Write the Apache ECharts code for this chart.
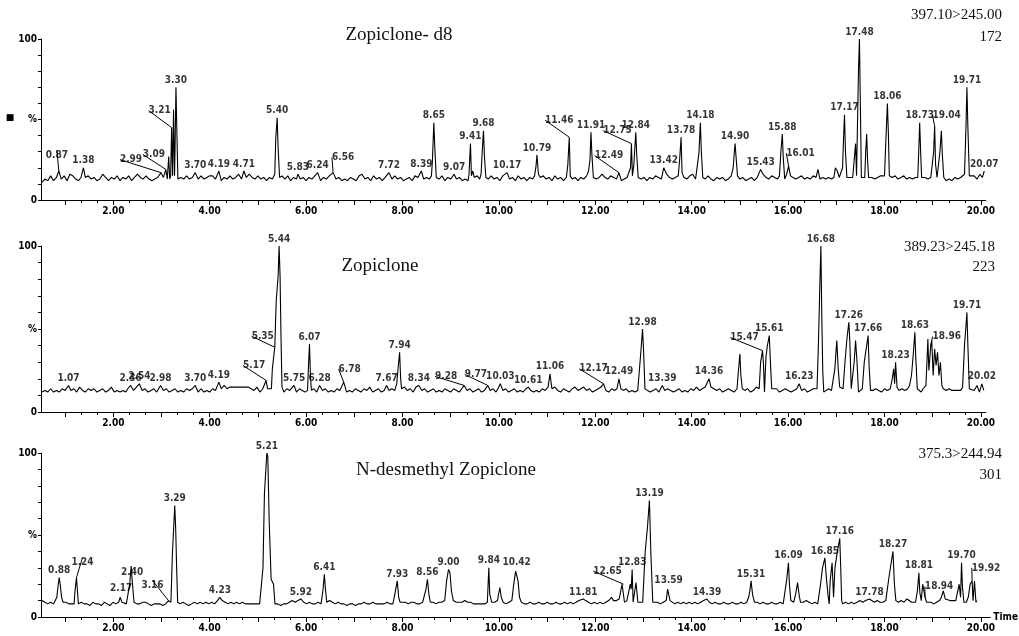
<!DOCTYPE html>
<html>
<head>
<meta charset="utf-8">
<script src="https://cdn.jsdelivr.net/npm/echarts@6/dist/echarts.min.js"></script>
<style>
  html, body { margin: 0; padding: 0; background: #fff; }
  #chart { width: 1019px; height: 636px; }
</style>
</head>
<body>
<div id="chart"></div>
<script>
// MRM chromatogram traces: [retention time (min), relative intensity (%)]
const zopicloneD8Trace = [
  [0.52,11],[0.58,13],[0.64,12],[0.70,15],[0.76,12],[0.82,14],[0.87,18],[0.92,13],[0.98,15],[1.04,12],
  [1.10,16],[1.16,15],[1.22,13],[1.28,12],[1.33,14],[1.38,20],[1.42,14],[1.48,15],[1.54,13],[1.60,14],
  [1.66,12],[1.72,13],[1.78,16],[1.84,14],[1.90,12],[1.96,14],[2.02,13],[2.08,15],[2.14,12],[2.20,14],
  [2.26,13],[2.32,15],[2.38,12],[2.44,14],[2.50,16],[2.56,14],[2.62,13],[2.68,15],[2.74,13],[2.80,12],
  [2.86,13],[2.92,14],[2.99,17],[3.04,14],[3.09,19],[3.12,13],[3.15,27],[3.17,13],[3.19,15],[3.21,45],
  [3.23,15],[3.25,56],[3.27,15],[3.28,30],[3.30,70],[3.32,41],[3.34,13],[3.40,14],[3.46,13],[3.52,15],
  [3.58,13],[3.64,14],[3.70,17],[3.76,13],[3.82,15],[3.88,13],[3.94,14],[4.00,15],[4.06,15],[4.12,13],
  [4.19,18],[4.24,12],[4.30,14],[4.36,13],[4.42,15],[4.48,13],[4.54,14],[4.60,16],[4.66,13],[4.71,18],
  [4.76,14],[4.82,16],[4.88,14],[4.94,13],[5.00,15],[5.06,13],[5.12,14],[5.18,12],[5.24,14],[5.30,13],
  [5.35,16],[5.37,38],[5.40,51],[5.42,32],[5.45,14],[5.50,15],[5.56,13],[5.62,15],[5.68,12],[5.74,14],
  [5.80,13],[5.83,16],[5.88,13],[5.94,14],[6.00,12],[6.06,14],[6.12,13],[6.18,15],[6.24,17],[6.30,12],
  [6.36,14],[6.42,13],[6.48,15],[6.56,17],[6.62,13],[6.68,14],[6.74,12],[6.80,13],[6.86,12],[6.92,14],
  [6.98,13],[7.04,12],[7.10,15],[7.16,16],[7.22,13],[7.28,14],[7.34,12],[7.40,15],[7.46,13],[7.52,14],
  [7.58,12],[7.64,14],[7.72,17],[7.78,13],[7.84,15],[7.90,13],[7.96,14],[8.02,12],[8.08,13],[8.14,14],
  [8.20,12],[8.26,15],[8.32,14],[8.39,18],[8.44,13],[8.50,14],[8.56,13],[8.60,15],[8.62,24],[8.65,48],
  [8.67,33],[8.70,14],[8.76,13],[8.82,15],[8.88,12],[8.94,14],[9.00,13],[9.07,16],[9.12,13],[9.18,14],
  [9.24,12],[9.30,13],[9.36,12],[9.38,16],[9.41,35],[9.43,15],[9.46,18],[9.49,14],[9.55,15],[9.60,13],
  [9.63,16],[9.65,28],[9.68,43],[9.70,27],[9.73,14],[9.78,13],[9.84,15],[9.90,13],[9.96,14],[10.02,12],
  [10.08,15],[10.12,14],[10.17,17],[10.22,13],[10.28,14],[10.34,12],[10.40,15],[10.46,13],[10.52,14],[10.58,12],
  [10.64,14],[10.70,13],[10.74,15],[10.77,21],[10.79,28],[10.82,16],[10.86,14],[10.92,15],[10.98,13],[11.04,14],
  [11.10,12],[11.16,15],[11.22,13],[11.28,14],[11.34,12],[11.40,14],[11.43,22],[11.46,39],[11.48,15],[11.52,13],
  [11.58,14],[11.64,12],[11.70,14],[11.76,13],[11.82,15],[11.86,18],[11.89,25],[11.91,42],[11.93,28],[11.96,14],
  [12.02,13],[12.08,14],[12.14,16],[12.20,14],[12.26,13],[12.32,15],[12.38,14],[12.44,13],[12.49,17],[12.54,12],
  [12.60,13],[12.66,14],[12.70,15],[12.73,20],[12.75,35],[12.77,15],[12.80,22],[12.84,42],[12.86,28],[12.89,14],
  [12.95,13],[13.01,14],[13.07,12],[13.13,14],[13.19,13],[13.25,15],[13.31,14],[13.37,13],[13.42,20],[13.48,16],
  [13.54,14],[13.60,13],[13.66,14],[13.72,15],[13.75,25],[13.78,39],[13.80,17],[13.84,14],[13.90,13],[13.96,15],
  [14.02,16],[14.08,13],[14.12,14],[14.15,29],[14.18,48],[14.20,30],[14.23,14],[14.28,13],[14.34,15],[14.40,13],
  [14.46,12],[14.52,14],[14.58,13],[14.64,14],[14.70,12],[14.76,13],[14.82,15],[14.86,20],[14.88,28],[14.90,35],
  [14.92,27],[14.95,15],[15.00,13],[15.06,14],[15.12,12],[15.18,13],[15.24,14],[15.30,12],[15.36,14],[15.43,19],
  [15.48,16],[15.54,14],[15.60,13],[15.66,15],[15.72,14],[15.78,13],[15.82,15],[15.85,30],[15.88,41],[15.90,26],
  [15.93,13],[15.97,16],[16.01,21],[16.05,15],[16.10,14],[16.16,13],[16.22,14],[16.28,15],[16.34,13],[16.40,14],
  [16.46,13],[16.52,15],[16.58,14],[16.62,19],[16.66,13],[16.72,14],[16.78,13],[16.84,14],[16.90,13],[16.95,14],
  [16.98,20],[17.02,18],[17.06,14],[17.10,15],[17.13,20],[17.15,38],[17.17,53],[17.19,30],[17.22,14],[17.28,14],
  [17.34,14],[17.38,15],[17.40,35],[17.42,15],[17.44,16],[17.46,80],[17.48,100],[17.50,58],[17.52,14],[17.56,14],
  [17.59,14],[17.61,30],[17.63,41],[17.65,24],[17.67,14],[17.74,14],[17.80,13],[17.86,14],[17.92,15],[17.96,14],
  [18.00,15],[18.03,38],[18.06,60],[18.08,42],[18.10,15],[18.16,14],[18.22,15],[18.28,13],[18.34,14],[18.40,15],
  [18.46,13],[18.52,14],[18.58,13],[18.64,14],[18.69,14],[18.71,30],[18.73,48],[18.75,30],[18.77,14],[18.84,14],
  [18.90,13],[18.96,14],[19.00,14],[19.02,30],[19.04,46],[19.06,22],[19.09,14],[19.12,15],[19.15,30],[19.18,43],
  [19.20,28],[19.23,14],[19.28,12],[19.34,13],[19.40,12],[19.46,14],[19.52,13],[19.58,14],[19.62,13],[19.66,16],
  [19.69,45],[19.71,70],[19.73,45],[19.76,15],[19.80,14],[19.86,15],[19.92,13],[19.98,16],[20.03,14],[20.07,18]
];

const zopicloneTrace = [
  [0.52,12],[0.58,13],[0.64,12],[0.70,14],[0.76,12],[0.82,13],[0.88,12],[0.94,14],[1.00,13],[1.07,16],
  [1.12,13],[1.18,14],[1.24,12],[1.30,15],[1.36,13],[1.42,12],[1.48,14],[1.54,13],[1.60,14],[1.66,12],
  [1.72,13],[1.78,14],[1.84,12],[1.90,13],[1.96,15],[2.02,12],[2.08,13],[2.14,12],[2.20,13],[2.26,12],
  [2.30,14],[2.36,16],[2.42,13],[2.48,15],[2.54,17],[2.60,13],[2.66,14],[2.72,12],[2.78,13],[2.84,14],
  [2.90,12],[2.98,16],[3.04,13],[3.10,14],[3.16,12],[3.22,13],[3.28,14],[3.34,12],[3.40,13],[3.46,12],
  [3.52,14],[3.58,13],[3.64,14],[3.70,16],[3.76,12],[3.82,14],[3.88,12],[3.94,13],[4.00,12],[4.06,14],
  [4.12,13],[4.19,18],[4.24,14],[4.30,16],[4.36,14],[4.42,15],[4.50,15],[4.60,15],[4.70,15],[4.80,15],
  [4.86,14],[4.92,13],[4.98,15],[5.04,12],[5.10,14],[5.14,13],[5.17,19],[5.20,14],[5.24,14],[5.28,14],
  [5.30,26],[5.32,26],[5.35,39],[5.38,67],[5.42,82],[5.44,100],[5.46,82],[5.48,44],[5.50,15],[5.54,12],
  [5.60,14],[5.66,13],[5.70,14],[5.75,16],[5.80,12],[5.86,14],[5.92,13],[5.98,12],[6.03,13],[6.05,28],
  [6.07,41],[6.09,22],[6.11,13],[6.16,14],[6.22,12],[6.28,16],[6.34,13],[6.40,14],[6.46,12],[6.52,13],
  [6.58,12],[6.64,14],[6.70,13],[6.78,18],[6.84,12],[6.90,13],[6.96,12],[7.02,14],[7.08,13],[7.14,12],
  [7.20,14],[7.26,13],[7.32,15],[7.38,12],[7.44,13],[7.50,14],[7.56,12],[7.62,13],[7.67,16],[7.72,13],
  [7.78,14],[7.84,13],[7.88,17],[7.91,27],[7.94,36],[7.96,21],[7.98,14],[8.04,15],[8.10,13],[8.16,14],
  [8.22,12],[8.28,15],[8.34,16],[8.40,13],[8.46,14],[8.52,12],[8.58,13],[8.64,14],[8.70,12],[8.76,13],
  [8.82,12],[8.88,14],[8.94,13],[9.00,12],[9.06,14],[9.12,13],[9.18,12],[9.23,14],[9.28,16],[9.34,13],
  [9.40,14],[9.46,12],[9.52,13],[9.58,14],[9.64,12],[9.70,13],[9.77,16],[9.82,13],[9.88,14],[9.94,12],
  [9.98,14],[10.03,17],[10.08,13],[10.14,14],[10.20,12],[10.26,13],[10.32,14],[10.38,12],[10.44,13],[10.50,12],
  [10.56,14],[10.61,15],[10.66,13],[10.72,12],[10.78,13],[10.84,12],[10.90,14],[10.96,13],[11.02,15],[11.06,23],
  [11.10,14],[11.16,15],[11.22,13],[11.28,12],[11.34,14],[11.40,13],[11.46,12],[11.52,14],[11.58,15],[11.64,13],
  [11.70,14],[11.76,15],[11.82,13],[11.88,14],[11.94,12],[12.00,13],[12.06,14],[12.12,15],[12.17,17],[12.22,13],
  [12.28,12],[12.34,14],[12.40,13],[12.45,14],[12.49,20],[12.53,14],[12.58,13],[12.64,14],[12.70,12],[12.76,13],
  [12.82,12],[12.88,13],[12.92,14],[12.95,38],[12.98,50],[13.00,38],[13.03,14],[13.08,13],[13.14,12],[13.20,13],
  [13.26,14],[13.32,12],[13.39,16],[13.44,13],[13.50,14],[13.56,13],[13.62,12],[13.68,13],[13.74,14],[13.80,12],
  [13.86,13],[13.92,12],[13.98,14],[14.04,13],[14.10,15],[14.16,13],[14.22,14],[14.28,15],[14.32,16],[14.36,20],
  [14.40,15],[14.46,14],[14.52,13],[14.58,14],[14.64,12],[14.70,13],[14.76,14],[14.82,13],[14.88,12],[14.94,14],
  [14.97,25],[15.00,35],[15.02,22],[15.05,14],[15.10,13],[15.16,14],[15.22,12],[15.28,13],[15.34,15],[15.40,14],
  [15.43,30],[15.47,37],[15.49,28],[15.51,12],[15.54,33],[15.57,40],[15.61,46],[15.63,32],[15.66,14],[15.70,13],
  [15.76,14],[15.82,12],[15.88,13],[15.94,14],[16.00,13],[16.06,12],[16.12,13],[16.18,14],[16.23,17],[16.28,13],
  [16.34,14],[16.40,12],[16.46,13],[16.52,14],[16.56,13],[16.60,14],[16.63,42],[16.66,78],[16.68,100],[16.70,56],
  [16.72,24],[16.74,12],[16.78,13],[16.84,14],[16.90,13],[16.94,14],[16.97,26],[17.01,43],[17.04,26],[17.07,15],
  [17.10,16],[17.14,14],[17.18,30],[17.22,44],[17.26,54],[17.28,43],[17.31,14],[17.34,14],[17.37,30],[17.40,43],
  [17.43,30],[17.46,12],[17.50,13],[17.54,14],[17.58,30],[17.66,46],[17.68,28],[17.71,13],[17.76,13],[17.82,14],
  [17.88,13],[17.94,12],[18.00,14],[18.06,13],[18.12,14],[18.16,20],[18.19,26],[18.21,17],[18.23,30],[18.26,15],
  [18.30,13],[18.36,14],[18.42,13],[18.48,14],[18.52,16],[18.56,22],[18.60,36],[18.63,48],[18.65,32],[18.68,14],
  [18.72,13],[18.76,12],[18.80,14],[18.86,16],[18.90,44],[18.92,25],[18.96,40],[18.98,43],[19.01,22],[19.04,38],
  [19.07,28],[19.10,36],[19.13,22],[19.16,30],[19.19,16],[19.22,14],[19.28,13],[19.34,14],[19.40,13],[19.46,13],
  [19.52,13],[19.58,13],[19.62,15],[19.66,40],[19.71,60],[19.73,40],[19.76,14],[19.80,15],[19.86,13],[19.92,16],
  [19.97,12],[20.02,17],[20.06,13]
];

const desmethylTrace = [
  [0.52,10],[0.58,9],[0.64,8],[0.70,9],[0.76,8],[0.80,8],[0.83,12],[0.86,20],[0.88,24],[0.90,20],
  [0.93,12],[0.96,9],[1.02,9],[1.08,8],[1.14,8],[1.19,8],[1.21,16],[1.24,24],[1.26,16],[1.28,8],
  [1.34,9],[1.40,8],[1.46,8],[1.52,7],[1.58,9],[1.64,8],[1.70,8],[1.76,7],[1.82,9],[1.88,8],
  [1.94,7],[2.00,9],[2.06,8],[2.12,9],[2.15,12],[2.17,13],[2.19,9],[2.23,8],[2.28,8],[2.32,8],
  [2.35,20],[2.38,31],[2.40,23],[2.42,16],[2.44,9],[2.50,8],[2.56,8],[2.62,9],[2.68,9],[2.74,8],
  [2.80,7],[2.86,8],[2.92,8],[2.98,8],[3.04,7],[3.10,8],[3.16,10],[3.21,9],[3.24,38],[3.29,68],
  [3.31,53],[3.33,29],[3.35,9],[3.40,8],[3.46,9],[3.52,8],[3.58,7],[3.64,8],[3.70,9],[3.76,8],
  [3.82,9],[3.88,8],[3.94,9],[4.00,8],[4.06,9],[4.12,8],[4.18,10],[4.23,12],[4.28,10],[4.34,9],
  [4.40,8],[4.46,9],[4.52,8],[4.58,9],[4.64,8],[4.70,9],[4.76,8],[4.82,8],[4.88,8],[4.94,8],
  [5.00,8],[5.06,8],[5.10,8],[5.13,30],[5.16,75],[5.21,100],[5.23,98],[5.26,58],[5.30,23],[5.35,20],
  [5.38,8],[5.44,8],[5.50,7],[5.56,8],[5.62,8],[5.68,9],[5.74,10],[5.80,9],[5.86,10],[5.92,11],
  [5.98,9],[6.04,8],[6.10,9],[6.16,8],[6.22,8],[6.28,9],[6.34,8],[6.38,16],[6.41,26],[6.43,18],
  [6.46,9],[6.52,10],[6.58,9],[6.64,8],[6.70,9],[6.76,8],[6.82,8],[6.88,7],[6.94,8],[7.00,8],
  [7.06,7],[7.12,8],[7.18,8],[7.24,9],[7.30,8],[7.36,8],[7.42,9],[7.48,8],[7.54,8],[7.60,8],
  [7.66,8],[7.72,9],[7.78,8],[7.84,8],[7.88,14],[7.93,22],[7.96,12],[7.99,9],[8.04,9],[8.10,9],
  [8.16,8],[8.22,9],[8.28,9],[8.34,8],[8.40,8],[8.46,9],[8.50,9],[8.53,17],[8.56,23],[8.59,14],
  [8.62,9],[8.68,9],[8.74,8],[8.80,9],[8.86,9],[8.92,10],[8.96,22],[9.00,29],[9.03,27],[9.06,16],
  [9.10,10],[9.16,9],[9.22,9],[9.28,9],[9.34,10],[9.40,9],[9.46,9],[9.52,8],[9.58,8],[9.64,8],
  [9.70,8],[9.76,8],[9.81,9],[9.84,30],[9.86,14],[9.90,9],[9.96,9],[10.02,10],[10.07,18],[10.10,12],
  [10.14,9],[10.20,8],[10.26,9],[10.32,10],[10.36,20],[10.40,28],[10.42,29],[10.45,22],[10.48,12],[10.52,9],
  [10.58,8],[10.64,8],[10.70,9],[10.76,8],[10.82,8],[10.88,9],[10.94,8],[11.00,8],[11.06,9],[11.12,8],
  [11.18,8],[11.24,9],[11.30,8],[11.36,8],[11.42,9],[11.48,8],[11.54,9],[11.60,8],[11.66,9],[11.72,10],
  [11.76,11],[11.81,11],[11.86,10],[11.92,9],[11.98,8],[12.04,9],[12.10,8],[12.16,9],[12.22,8],[12.28,9],
  [12.34,10],[12.40,12],[12.44,10],[12.50,10],[12.56,11],[12.60,10],[12.62,20],[12.65,20],[12.67,9],[12.72,10],
  [12.76,9],[12.79,20],[12.81,17],[12.83,29],[12.85,9],[12.89,10],[12.91,21],[12.93,21],[12.95,9],[13.05,9],
  [13.10,39],[13.15,55],[13.19,71],[13.22,39],[13.26,9],[13.30,8],[13.36,9],[13.42,8],[13.48,9],[13.54,10],
  [13.57,17],[13.59,18],[13.62,10],[13.66,9],[13.72,8],[13.78,9],[13.84,8],[13.90,9],[13.96,8],[14.02,9],
  [14.08,8],[14.14,9],[14.20,8],[14.26,9],[14.32,10],[14.39,11],[14.44,9],[14.50,8],[14.56,9],[14.62,8],
  [14.68,8],[14.74,9],[14.80,8],[14.86,8],[14.92,9],[14.98,8],[15.04,8],[15.10,9],[15.16,8],[15.22,9],
  [15.26,12],[15.29,17],[15.31,22],[15.34,14],[15.38,9],[15.44,9],[15.50,8],[15.56,9],[15.62,8],[15.68,8],
  [15.74,9],[15.80,8],[15.86,8],[15.92,9],[15.98,8],[16.02,9],[16.05,22],[16.09,33],[16.11,20],[16.14,10],
  [16.20,9],[16.24,14],[16.28,21],[16.31,14],[16.34,9],[16.40,9],[16.46,10],[16.52,9],[16.58,8],[16.64,9],
  [16.70,8],[16.74,9],[16.76,20],[16.80,30],[16.85,36],[16.88,24],[16.92,12],[16.94,8],[16.96,22],[17.00,33],
  [17.03,12],[17.06,30],[17.10,38],[17.13,38],[17.16,48],[17.18,30],[17.20,10],[17.22,8],[17.28,9],[17.34,8],
  [17.40,9],[17.46,8],[17.52,9],[17.58,10],[17.64,9],[17.70,10],[17.74,11],[17.78,11],[17.82,10],[17.88,9],
  [17.94,10],[18.00,9],[18.06,9],[18.12,10],[18.16,10],[18.19,25],[18.23,25],[18.27,40],[18.30,20],[18.33,10],
  [18.38,9],[18.44,10],[18.50,9],[18.56,11],[18.60,10],[18.66,9],[18.70,10],[18.74,9],[18.78,16],[18.81,27],
  [18.83,15],[18.86,10],[18.89,20],[18.92,21],[18.94,12],[18.97,9],[19.00,8],[19.06,9],[19.12,8],[19.18,9],
  [19.24,10],[19.28,12],[19.32,16],[19.36,11],[19.40,10],[19.46,10],[19.52,10],[19.58,10],[19.62,10],[19.65,20],
  [19.68,12],[19.70,33],[19.72,18],[19.75,9],[19.80,9],[19.84,12],[19.88,20],[19.92,22],[19.94,10],[19.97,22],
  [20.00,9],[20.02,10]
];

// Retention times annotated above the detected peaks
const zopicloneD8Peaks = [0.87,1.38,2.99,3.09,3.21,3.30,3.70,4.19,4.71,5.40,5.83,6.24,6.56,7.72,8.39,8.65,9.07,
  9.41,9.68,10.17,10.79,11.46,11.91,12.49,12.75,12.84,13.42,13.78,14.18,14.90,15.43,15.88,16.01,17.17,17.48,
  18.06,18.73,19.04,19.71,20.07];
const zopiclonePeaks = [1.07,2.36,2.54,2.98,3.70,4.19,5.17,5.35,5.44,5.75,6.07,6.28,6.78,7.67,7.94,8.34,9.28,9.77,
  10.03,10.61,11.06,12.17,12.49,12.98,13.39,14.36,15.47,15.61,16.23,16.68,17.26,17.66,18.23,18.63,18.96,19.71,20.02];
const desmethylPeaks = [0.88,1.24,2.17,2.40,3.16,3.29,4.23,5.21,5.92,6.41,7.93,8.56,9.00,9.84,10.42,11.81,12.65,
  12.83,13.19,13.59,14.39,15.31,16.09,16.85,17.16,17.78,18.27,18.81,18.94,19.70,19.92];

const compoundNames = ['Zopiclone- d8', 'Zopiclone', 'N-desmethyl Zopiclone'];
const transitions = ['397.10>245.00', '389.23>245.18', '375.3>244.94'];
const peakCounts = ['172', '223', '301'];
const yTickValues = [0, 50, 100];
const yTickNames = ['0', '%', '100'];
const xAxisName = 'Time';

const traces = [zopicloneD8Trace, zopicloneTrace, desmethylTrace];
const peakLists = [zopicloneD8Peaks, zopiclonePeaks, desmethylPeaks];

// ---- layout ----
const T_MIN = 0.5, PX_PER_MIN = 48.2, LEFT = 41;
const panels = [
  { top: 39,  bottom: 200, tMax: 20.1, titleX: 399, titleY: 35,  transY: 15,  countY: 37,  rightX: 1002 },
  { top: 246, bottom: 412, tMax: 20.1, titleX: 380, titleY: 266, transY: 247, countY: 267, rightX: 995 },
  { top: 453, bottom: 617, tMax: 20.3, titleX: 446, titleY: 470, transY: 454, countY: 475, rightX: 1002 }
];
// label nudges [dx, dy] for crowded annotations; nudged labels get a short leader line
const labelNudge = [
  { '0.87': [-2, -9], '2.99': [-30, -6], '3.09': [-12, -8], '3.21': [-12, -10], '6.56': [10, -8],
    '11.46': [-10, -10], '12.49': [-10, -10], '12.75': [-14, -6], '16.01': [12, -6], '19.04': [12, -4] },
  { '5.17': [-12, -8], '5.35': [-12, -4], '6.78': [6, -6], '9.28': [-18, -2], '9.77': [-12, -4],
    '12.17': [-10, -8], '15.47': [-18, -6], '18.96': [16, -2] },
  { '1.24': [6, -8], '3.16': [-16, -8], '12.65': [-16, -6], '18.94': [14, -4], '19.92': [14, -6] }
];

const labelFont = "'DejaVu Sans Condensed', 'Liberation Sans Narrow', sans-serif";
const serifFont = "'Liberation Serif', 'DejaVu Serif', serif";

const grid = [], xAxis = [], yAxis = [], series = [], graphic = [];

panels.forEach(p => {
  grid.push({ left: LEFT, top: p.top, width: (p.tMax - T_MIN) * PX_PER_MIN, height: p.bottom - p.top });
});
panels.forEach(p => {
  // tick grid starts at 1.00 so integer ticks are counted from its min
  grid.push({ left: LEFT + (1 - T_MIN) * PX_PER_MIN, top: p.top, width: (20 - 1) * PX_PER_MIN, height: p.bottom - p.top });
});

panels.forEach((p, i) => {
  xAxis.push({
    type: 'value', gridIndex: i, min: T_MIN, max: p.tMax,
    axisLine: { show: true, lineStyle: { color: '#000', width: 1 } },
    axisTick: { show: false }, axisLabel: { show: false }, splitLine: { show: false },
    name: i === 2 ? xAxisName : '', nameLocation: 'end', nameGap: 3,
    nameTextStyle: { color: '#000', fontFamily: labelFont, fontWeight: 'bold', fontSize: 10, verticalAlign: 'middle', padding: [4, 0, 0, 0] }
  });
  yAxis.push({
    type: 'value', gridIndex: i, min: 0, max: 100, interval: 10,
    axisLine: { show: true, lineStyle: { color: '#000', width: 1 } },
    axisTick: { show: true, length: 3, lineStyle: { color: '#000' } },
    splitLine: { show: false },
    axisLabel: {
      color: '#000', fontFamily: labelFont, fontWeight: 'bold', fontSize: 10, margin: 4,
      formatter: v => { const k = yTickValues.indexOf(v); return k >= 0 ? yTickNames[k] : ''; }
    }
  });
});
panels.forEach((p, i) => {
  xAxis.push({
    type: 'value', gridIndex: i + 3, min: 1, max: 20, interval: 1,
    axisLine: { show: false },
    axisTick: { show: true, length: 5, lineStyle: { color: '#000' } },
    minorTick: { show: true, splitNumber: 3, length: 3, lineStyle: { color: '#000' } },
    splitLine: { show: false }, minorSplitLine: { show: false },
    axisLabel: {
      color: '#000', fontFamily: labelFont, fontWeight: 'bold', fontSize: 10, margin: 6,
      formatter: v => (Math.round(v) % 2 === 0 ? v.toFixed(2) : '')
    }
  });
  yAxis.push({ type: 'value', gridIndex: i + 3, min: 0, max: 100, show: false });
});

traces.forEach((trace, i) => {
  series.push({
    type: 'line', xAxisIndex: i, yAxisIndex: i, data: trace,
    showSymbol: false, symbol: 'none', smooth: false, silent: true,
    lineStyle: { color: '#000', width: 1.1 }
  });
  const nudge = labelNudge[i];
  const marks = peakLists[i].map(t => {
    const pt = trace.find(d => Math.abs(d[0] - t) < 1e-9);
    const item = { value: [t, pt ? pt[1] : 0] };
    if (nudge[t.toFixed(2)]) item.labelLine = { show: true };
    return item;
  });
  series.push({
    type: 'scatter', xAxisIndex: i, yAxisIndex: i, data: marks,
    symbolSize: 0, silent: true, clip: false,
    label: {
      show: true, position: 'top', distance: 2, color: '#000',
      fontFamily: labelFont, fontWeight: 'bold', fontSize: 10,
      formatter: prm => prm.value[0].toFixed(2)
    },
    labelLine: { show: false, lineStyle: { color: '#000', width: 1 } },
    labelLayout: prm => {
      const n = nudge[marks[prm.dataIndex].value[0].toFixed(2)];
      return n ? { dx: n[0], dy: n[1] } : {};
    }
  });
});

panels.forEach((p, i) => {
  graphic.push({ type: 'text', x: p.titleX, y: p.titleY,
    style: { text: compoundNames[i], font: '19px ' + serifFont, fill: '#111', textAlign: 'center', textVerticalAlign: 'middle', align: 'center', verticalAlign: 'middle' } });
  graphic.push({ type: 'text', x: p.rightX, y: p.transY,
    style: { text: transitions[i], font: '15px ' + serifFont, fill: '#111', textAlign: 'right', textVerticalAlign: 'middle', align: 'right', verticalAlign: 'middle' } });
  graphic.push({ type: 'text', x: p.rightX, y: p.countY,
    style: { text: peakCounts[i], font: '15px ' + serifFont, fill: '#111', textAlign: 'right', textVerticalAlign: 'middle', align: 'right', verticalAlign: 'middle' } });
});
graphic.push({ type: 'text', x: 10, y: 118,
  style: { text: '■', font: '9px DejaVu Sans', fill: '#000', textAlign: 'center', textVerticalAlign: 'middle', align: 'center', verticalAlign: 'middle' } });

const chart = echarts.init(document.getElementById('chart'), null, { renderer: 'canvas' });
chart.setOption({
  animation: false,
  backgroundColor: '#fff',
  grid, xAxis, yAxis, series, graphic
});
</script>
</body>
</html>
